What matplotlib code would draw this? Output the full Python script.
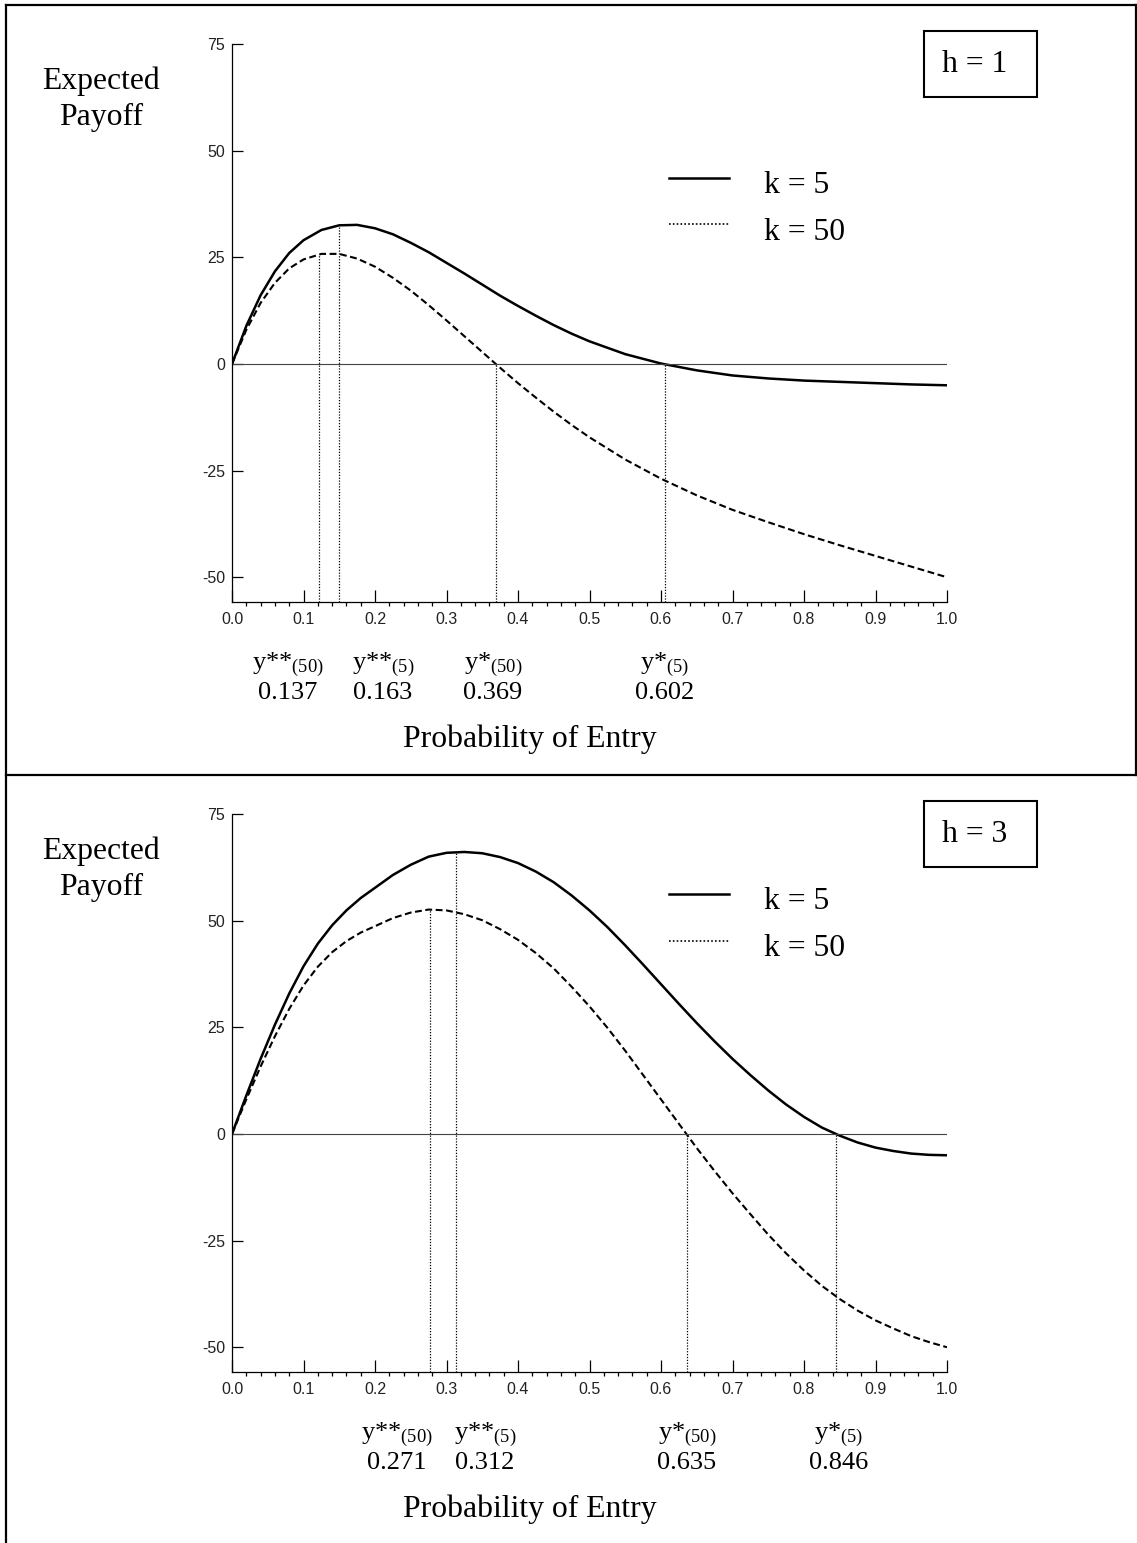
import matplotlib
matplotlib.use('Agg')
import numpy as np
import matplotlib.pyplot as plt
from matplotlib.lines import Line2D
from matplotlib.patches import Rectangle

W, H = 1137, 1543

# ---- h = 1 panel ----
x_h1 = [0, 0.02, 0.04, 0.06, 0.08, 0.10, 0.125, 0.15, 0.175, 0.20, 0.225, 0.25, 0.275,
        0.30, 0.325, 0.35, 0.375, 0.40, 0.425, 0.45, 0.475, 0.50, 0.55, 0.60, 0.65,
        0.70, 0.75, 0.80, 0.85, 0.90, 0.95, 1.0]
k5_h1 = [0, 8.9, 16.1, 21.7, 26.0, 29.0, 31.4, 32.5, 32.6, 31.8, 30.4, 28.4, 26.2,
         23.7, 21.2, 18.6, 16.0, 13.6, 11.3, 9.1, 7.1, 5.3, 2.3, 0.1, -1.5,
         -2.7, -3.4, -3.9, -4.2, -4.5, -4.8, -5.0]
k50_h1 = [0, 8.0, 14.3, 19.0, 22.4, 24.5, 25.8, 25.8, 24.7, 22.8, 20.2, 17.2, 13.8,
          10.2, 6.5, 2.8, -0.9, -4.5, -7.9, -11.2, -14.3, -17.2, -22.4, -26.9, -30.8,
          -34.2, -37.1, -39.9, -42.5, -45.0, -47.5, -50.0]
guide_x_h1 = [0.122, 0.150, 0.369, 0.605]
guide_top_h1 = [25.7, 32.5, 0.0, 0.0]
crit_vals_h1 = ['0.137', '0.163', '0.369', '0.602']

# ---- h = 3 panel ----
x_h3 = [0, 0.02, 0.04, 0.06, 0.08, 0.10, 0.12, 0.14, 0.16, 0.18, 0.20,
        0.225, 0.25, 0.275, 0.30, 0.325, 0.35, 0.375, 0.40, 0.425, 0.45, 0.475, 0.50,
        0.525, 0.55, 0.575, 0.60, 0.625, 0.65, 0.675, 0.70, 0.725, 0.75, 0.775, 0.80,
        0.825, 0.85, 0.875, 0.90, 0.925, 0.95, 0.975, 1.0]
k5_h3 = [0, 9.0, 17.6, 25.6, 32.9, 39.3, 44.6, 48.9, 52.4, 55.3, 57.7,
         60.7, 63.1, 65.0, 65.9, 66.1, 65.8, 64.9, 63.5, 61.5, 59.0, 55.9, 52.4,
         48.5, 44.2, 39.7, 35.1, 30.5, 26.0, 21.7, 17.6, 13.8, 10.2, 6.9, 4.0,
         1.5, -0.4, -2.0, -3.2, -4.0, -4.6, -4.9, -5.0]
k50_h3 = [0, 8.1, 15.8, 22.9, 29.3, 34.8, 39.2, 42.6, 45.2, 47.2, 48.7,
          50.6, 51.9, 52.6, 52.4, 51.5, 50.1, 48.0, 45.5, 42.4, 38.8, 34.5, 29.9,
          24.9, 19.5, 13.8, 8.1, 2.4, -3.3, -8.7, -13.9, -18.8, -23.6, -28.0, -32.0,
          -35.6, -38.7, -41.4, -43.7, -45.6, -47.4, -48.8, -50.0]
guide_x_h3 = [0.277, 0.313, 0.636, 0.8445]
guide_top_h3 = [52.6, 66.0, 0.0, 0.0]
crit_vals_h3 = ['0.271', '0.312', '0.635', '0.846']

crit_names = ['y**', 'y**', 'y*', 'y*']
crit_subs = ['(50)', '(5)', '(50)', '(5)']
xticks = np.round(np.arange(0, 1.01, 0.1), 1)
yticks = [-50, -25, 0, 25, 50, 75]

serif = 'Liberation Serif'
sans = 'Liberation Sans'
plt.rcParams['font.family'] = sans
plt.rcParams['mathtext.fontset'] = 'custom'
plt.rcParams['mathtext.rm'] = serif
plt.rcParams['mathtext.it'] = serif + ':italic'

fig = plt.figure(figsize=(W / 100, H / 100), dpi=100)


def fx(px):
    return px / W


def fy(py):
    return 1 - py / H


YMIN, YMAX = -55.8, 75


def panel(off, x, k5, k50, gx, gtop, vals, label_px, hval, leg_y):
    ax = fig.add_axes([fx(232), fy(602 + off), 715 / W, 558 / H])
    ax.plot(x, k5, color='black', lw=1.8)
    ax.plot(x, k50, color='black', lw=1.5, dashes=(3.3, 1.7))
    ax.axhline(0, color='#444444', lw=0.8)
    ax.vlines(gx, YMIN, gtop, colors='black', lw=0.9, linestyles=(0, (1, 1.3)))
    ax.set_xlim(0, 1)
    ax.set_ylim(YMIN, YMAX)
    for s in ['top', 'right']:
        ax.spines[s].set_visible(False)
    for s in ['left', 'bottom']:
        ax.spines[s].set_linewidth(0.9)
    ax.set_xticks(xticks)
    ax.set_xticklabels(['%.1f' % t for t in xticks], fontsize=11.5, color='#222222')
    ax.set_xticks(np.round(np.arange(0, 1.001, 0.02), 2), minor=True)
    ax.set_yticks(yticks)
    ax.set_yticklabels([str(t) for t in yticks], fontsize=11.5, color='#222222')
    ax.tick_params(axis='x', which='major', direction='in', length=8.6, width=0.9, pad=7)
    ax.tick_params(axis='x', which='minor', direction='out', length=2.6, width=0.9)
    ax.tick_params(axis='y', which='major', direction='in', length=8, width=0.9, pad=5)

    # critical point labels
    for px, nm, sb, v in zip(label_px, crit_names, crit_subs, vals):
        fig.text(fx(px), fy(669 + off), nm + r'$_{\mathrm{' + sb + '}}$', family=serif,
                 fontsize=19, ha='center', va='baseline')
        fig.text(fx(px), fy(699 + off), v, family=serif, fontsize=19,
                 ha='center', va='baseline')
    fig.text(fx(530), fy(747.5 + off), 'Probability of Entry', family=serif,
             fontsize=22.8, ha='center', va='baseline')
    fig.text(fx(101), fy(89.3 + off), 'Expected', family=serif, fontsize=22.8,
             ha='center', va='baseline')
    fig.text(fx(101), fy(125 + off), 'Payoff', family=serif, fontsize=22.8,
             ha='center', va='baseline')

    # h box
    fig.add_artist(Rectangle((fx(924), fy(97 + off)), 113 / W, 66 / H,
                             transform=fig.transFigure, fill=False, lw=1.5, ec='black'))
    fig.text(fx(975), fy(71.5 + off), 'h = %d' % hval, family=serif, fontsize=22.8,
             ha='center', va='baseline')

    # legend
    y1, y2 = leg_y[0] + off, leg_y[1] + off
    fig.add_artist(Line2D([fx(669), fx(729)], [fy(y1), fy(y1)], color='black', lw=1.8,
                          transform=fig.transFigure))
    fig.add_artist(Line2D([fx(669), fx(729)], [fy(y2), fy(y2)], color='black', lw=1.2,
                          linestyle=(0, (1, 1.3)), transform=fig.transFigure))
    fig.text(fx(764), fy(y1 + 14.7), 'k = 5', family=serif, fontsize=22.8, va='baseline')
    fig.text(fx(764), fy(y2 + 15.5), 'k = 50', family=serif, fontsize=22.8, va='baseline')
    return ax


panel(0, x_h1, k5_h1, k50_h1, guide_x_h1, guide_top_h1, crit_vals_h1,
      [288, 383, 493, 665], 1, (178, 224))
panel(770, x_h3, k5_h3, k50_h3, guide_x_h3, guide_top_h3, crit_vals_h3,
      [397, 485, 687, 839], 3, (894 - 770, 940.7 - 770))

# panel frames
frame = [([5.5, 5.5], [4.5, 1543]),
         ([5.5, 1137], [4.5, 4.5]),
         ([1135.5, 1135.5], [4.5, 775]),
         ([5.5, 1137], [775, 775])]
for xs, ys in frame:
    fig.add_artist(Line2D([fx(v) for v in xs], [fy(v) for v in ys], color='black',
                          lw=1.6, transform=fig.transFigure))

fig.savefig('out.png', dpi=100)
